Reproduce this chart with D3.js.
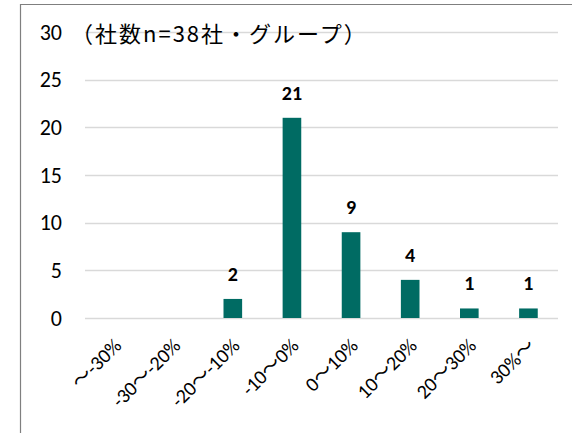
<!DOCTYPE html>
<html><head><meta charset="utf-8">
<script src="https://cdn.jsdelivr.net/npm/d3@7"></script>
<style>body{margin:0;background:#fff}svg{display:block}</style>
</head><body>
<svg id="c" width="572" height="433"></svg>
<script>
const categories = ["～-30%", "-30～-20%", "-20～-10%", "-10～0%", "0～10%", "10～20%", "20～30%", "30%～"];
const counts = [0, 0, 2, 21, 9, 4, 1, 1];
const yTicks = [0, 5, 10, 15, 20, 25, 30];
const title = "（社数n=38社・グループ）";

const svg = d3.select("#c");
const font = "Calibri, Carlito, 'Noto Sans CJK JP', sans-serif";
const jpFont = "'Noto Sans CJK JP', sans-serif";

// chart frame
svg.append("path").attr("d", "M20.5,440V4.5H580").attr("fill", "none").attr("stroke", "#7f7f7f").attr("stroke-width", 1.2);

const x = d3.scaleBand().domain(categories).range([85, 558]).paddingInner(0.685).paddingOuter(0.3425);
const y = d3.scaleLinear().domain([0, 30]).range([318, 32]);

// gridlines
svg.append("g").selectAll("line").data(yTicks).join("line")
  .attr("x1", 85).attr("x2", 558)
  .attr("y1", d => Math.round(y(d)) + 0.5).attr("y2", d => Math.round(y(d)) + 0.5)
  .attr("stroke", "#d9d9d9").attr("stroke-width", 1.5);

// y axis labels
const yAxis = d3.axisLeft(y).tickValues(yTicks).tickSize(0).tickPadding(0);
const ya = svg.append("g").attr("transform", "translate(62,0)").call(yAxis);
ya.select(".domain").remove();
ya.selectAll("text").attr("font-family", font).attr("font-size", 22).attr("fill", "#000");

const bars = counts.map((v, i) => ({c: categories[i], v})).filter(d => d.v > 0);

// bars
svg.append("g").selectAll("rect").data(bars).join("rect")
  .attr("x", d => x(d.c)).attr("width", x.bandwidth())
  .attr("y", d => y(d.v)).attr("height", d => y(0) - y(d.v))
  .attr("fill", "#006B63");

// value labels
svg.append("g").selectAll("text").data(bars).join("text")
  .attr("x", d => x(d.c) + x.bandwidth() / 2).attr("y", d => y(d.v) - 18)
  .attr("text-anchor", "middle").attr("font-family", font).attr("font-size", 20).attr("font-weight", "bold")
  .text(d => d.v);

// category labels, rotated
svg.append("g").selectAll("text").data(categories).join("text")
  .attr("transform", d => `translate(${x(d) + x.bandwidth() / 2 + 8},${347}) rotate(-45)`)
  .attr("text-anchor", "end").attr("font-family", font).attr("font-size", 20).attr("fill", "#000")
  .text(d => d);

// title
svg.append("text").attr("x", 71).attr("y", 42).attr("font-family", jpFont).attr("font-size", 22)
  .attr("letter-spacing", 2).attr("fill", "#000").text(title);
</script>
</body></html>
